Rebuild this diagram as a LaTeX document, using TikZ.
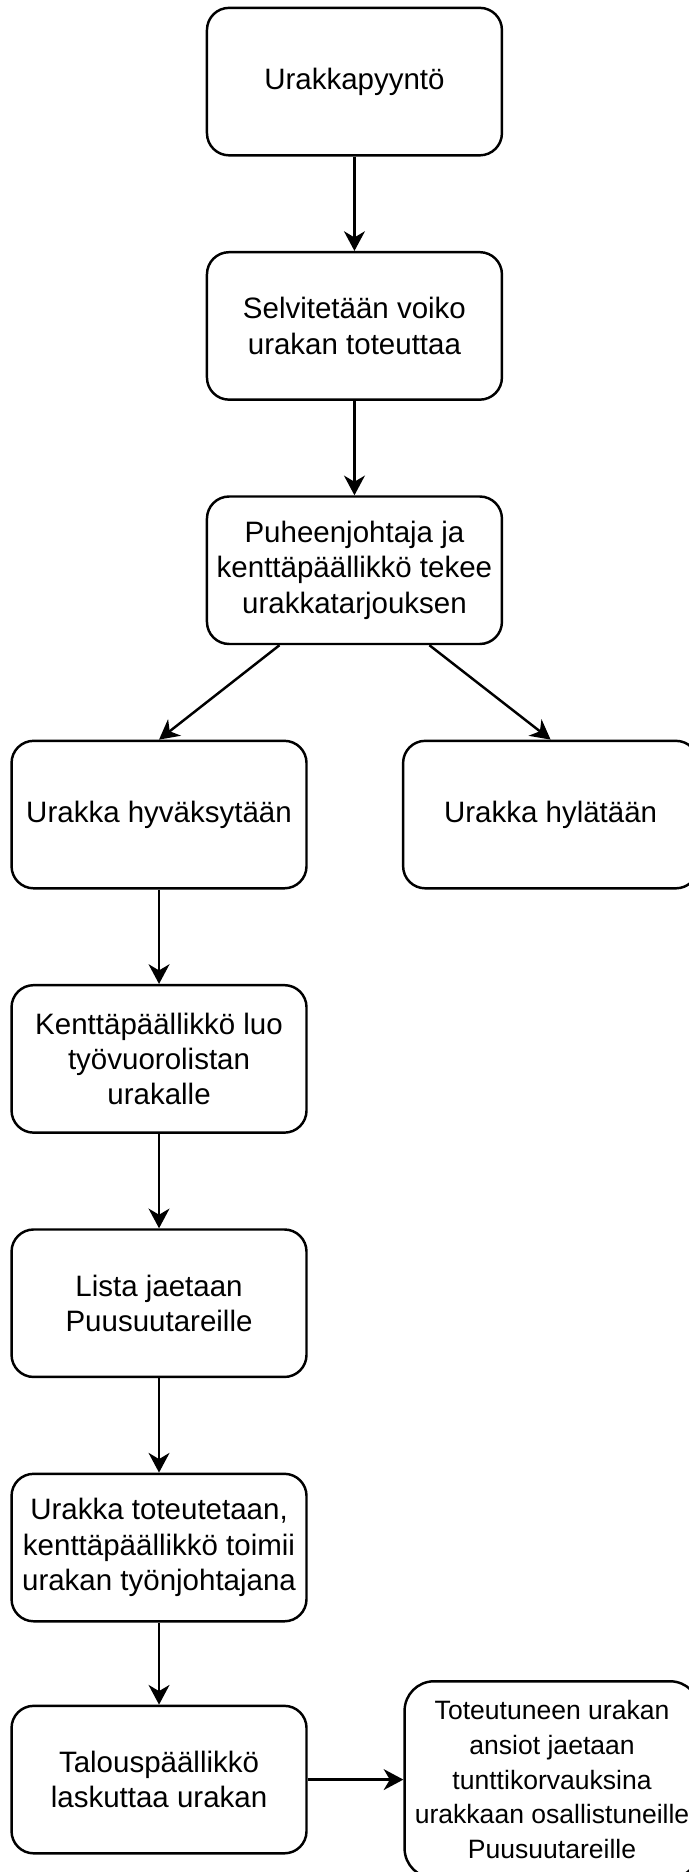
\documentclass[tikz,border=0pt]{standalone}
\usepackage{fontspec}
\setmainfont{Liberation Sans}
\usetikzlibrary{positioning,arrows.meta}

\begin{document}
\begin{tikzpicture}[x=1pt, y=1pt, line width=1pt,
        every node/.style={draw, rounded corners=9pt, minimum width=120pt, minimum height=60pt,
            align=center, inner sep=1pt, font=\fontsize{12}{14.4}\selectfont},
        >={Stealth[length=8pt, width=8.5pt, inset=2.5pt]}]
            \useasboundingbox (0,0) rectangle (280.3,-761.6);
            \node[] (1) at (144.2,-33.2) {Urakkapyyntö};
            \node[below = 38.4pt of 1] (2) {Selvitetään voiko\\urakan toteuttaa};
            \node[below = 38.4pt of 2] (3) {Puheenjohtaja ja\\kenttäpäällikkö tekee\\urakkatarjouksen};
            \node[below = 38.4pt of 3, xshift=-79.5pt] (4) {Urakka hyväksytään};
            \node[below = 38.4pt of 3, xshift=79.8pt] (5) {Urakka hylätään};
            \node[below = 38.4pt of 4] (6) {Kenttäpäällikkö luo\\työvuorolistan\\urakalle};
            \node[below = 38.4pt of 6] (7) {Lista jaetaan\\Puusuutareille};
            \node[below = 38.4pt of 7] (8) {Urakka toteutetaan,\\kenttäpäällikkö toimii\\urakan työnjohtajana};
            \node[below = 33.4pt of 8] (9) {Talouspäällikkö\\laskuttaa urakan};
            \node[right = 38.9pt of 9, minimum height=80pt, rounded corners=12pt, inner sep=0pt,
                font=\fontsize{10.8}{14.1}\selectfont] (10)
                {Toteutuneen urakan\\ansiot jaetaan\\tunttikorvauksina\\urakkaan osallistuneille\\Puusuutareille};
            \draw[->] (1) -- (2);
            \draw[->] (2) -- (3);
            \draw[->] ([xshift=-30.5pt]3.south) -- (4.north);
            \draw[->] ([xshift=30.5pt]3.south) -- (5.north);
            \draw[->] (4) -- (6);
            \draw[->] (6) -- (7);
            \draw[->] (7) -- (8);
            \draw[->] (8) -- (9);
            \draw[->] (9) -- (10);
        \end{tikzpicture}
\end{document}
